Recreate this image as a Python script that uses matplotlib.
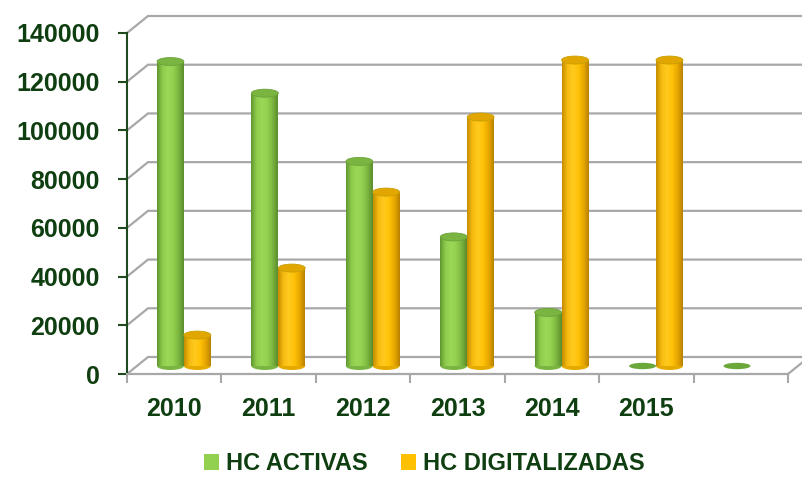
import numpy as np
import matplotlib
matplotlib.use("Agg")
import matplotlib.pyplot as plt
from matplotlib.patches import Ellipse, Patch
from matplotlib.colors import LinearSegmentedColormap

# ---------------- data ----------------
categories = ["2010", "2011", "2012", "2013", "2014", "2015", ""]
hc_activas = [125000, 112000, 84000, 53000, 22000, 0, 0]
hc_digitalizadas = [12700, 40200, 71400, 102200, 125600, 125600, np.nan]
series_names = ["HC ACTIVAS", "HC DIGITALIZADAS"]
y_ticks = [0, 20000, 40000, 60000, 80000, 100000, 120000, 140000]

# ---------------- style ----------------
FONT = ["Liberation Sans", "DejaVu Sans"]
TXT = "#0f3f10"
GRID = "#a8a8a8"
GREEN = "#92d050"
YELLOW = "#ffc000"
W, H = 802, 480
fig = plt.figure(figsize=(W / 100, H / 100), dpi=100)
fig.patch.set_facecolor("white")

left_px, right_px, top_px, bot_px = 127, 788, 33, 374
bar_lift = 8
ax = fig.add_axes([left_px / W, (H - bot_px) / H, (right_px - left_px) / W, (bot_px - top_px) / H])
axb = fig.add_axes([left_px / W, (H - bot_px + bar_lift) / H, (right_px - left_px) / W, (bot_px - top_px) / H])
axb.patch.set_alpha(0)

n = len(categories)
ymax = y_ticks[-1]
ax.set_xlim(0, n)
ax.set_ylim(0, ymax)
units_per_px_x = n / (right_px - left_px)
units_per_px_y = ymax / (bot_px - top_px)
ddx = 21 * units_per_px_x
ddy = 17 * units_per_px_y
xend = n + 0.3

# back wall gridlines with depth connectors
for v in y_ticks:
    ax.plot([0, ddx, xend], [v, v + ddy, v + ddy], color=GRID, lw=1.6,
            clip_on=False, zorder=1, solid_joinstyle="miter")
# floor right edge
ax.plot([n, n + ddx], [0, ddy], color=GRID, lw=1.6, clip_on=False, zorder=1)

# spines / ticks
for s in ["top", "right"]:
    ax.spines[s].set_visible(False)
ax.spines["left"].set_color("#1e4a1e")
ax.spines["left"].set_linewidth(1.5)
ax.spines["bottom"].set_color(GRID)
ax.spines["bottom"].set_linewidth(1.6)
ax.set_yticks(y_ticks)
ax.set_yticklabels([str(v) for v in y_ticks], fontfamily=FONT, fontweight="bold",
                   fontsize=18, color=TXT)
ax.tick_params(axis="y", length=6.5, width=1.5, color="#1e4a1e", pad=13)
ax.set_xticks(np.arange(n + 1))
ax.set_xticklabels([])
ax.tick_params(axis="x", which="major", length=6.5, width=1.5, color=GRID)
ax.set_xticks(np.arange(n) + 0.5, minor=True)
ax.set_xticklabels(categories, minor=True, fontfamily=FONT, fontweight="bold",
                   fontsize=18, color=TXT)
ax.tick_params(axis="x", which="minor", length=0, pad=16.5)

# ---------------- bars ----------------
bw = 0.285
x = np.arange(n)
offsets = [0.46, 0.745]
cmaps = [
    LinearSegmentedColormap.from_list("g", ["#5e9630", "#8fcb4c", "#9cd858", "#93d150", "#7cb640", "#5a8c2c"]),
    LinearSegmentedColormap.from_list("y", ["#c48c00", "#f6bb10", "#ffca1e", "#ffc208", "#e8a800", "#b88200"]),
]
cap_colors = ["#7ab542", "#e2a600"]
bottom_colors = ["#7ab542", "#e5aa00"]
base_colors = [GREEN, YELLOW]
cap_h = 8 * units_per_px_y
grad = np.linspace(0, 1, 128).reshape(1, -1)

for vals, off, cm, capc, botc, basec in zip([hc_activas, hc_digitalizadas], offsets,
                                             cmaps, cap_colors, bottom_colors, base_colors):
    vals = np.asarray(vals, dtype=float)
    xc = x + off
    bars = axb.bar(xc, np.nan_to_num(vals), width=bw, color=basec, edgecolor="none", zorder=3)
    for rect, xi, v in zip(bars, xc, vals):
        if np.isnan(v):
            rect.set_visible(False)
            continue
        if v <= 0:
            rect.set_visible(False)
            axb.add_patch(Ellipse((xi, 0), bw, cap_h * 0.8, facecolor="#6aa83a",
                                  edgecolor="none", zorder=4, clip_on=False))
            continue
        axb.add_patch(Ellipse((xi, 0), bw, cap_h, facecolor=botc, edgecolor="none",
                              zorder=2.5, clip_on=False))
        im = axb.imshow(grad, cmap=cm, extent=(xi - bw / 2, xi + bw / 2, 0, v),
                        aspect="auto", zorder=3.5, interpolation="bilinear")
        im.set_clip_path(rect)
        axb.add_patch(Ellipse((xi, v), bw, cap_h, facecolor=capc, edgecolor="#c9a000" if off > 0.5 else "#6da33a",
                              lw=0.6, zorder=4, clip_on=False))

axb.set_xlim(0, n)
axb.set_ylim(0, ymax)
axb.axis("off")

# ---------------- legend ----------------
handles = [Patch(facecolor=GREEN, edgecolor="none"), Patch(facecolor=YELLOW, edgecolor="none")]
leg = fig.legend(handles, series_names, loc="center", bbox_to_anchor=(0.529, 0.034),
                 ncol=2, frameon=False, handlelength=0.64, handleheight=0.64,
                 handletextpad=0.3, columnspacing=1.4, borderpad=0,
                 prop={"family": FONT, "weight": "bold", "size": 17})
for t in leg.get_texts():
    t.set_color(TXT)

fig.savefig("out.png", dpi=100)
